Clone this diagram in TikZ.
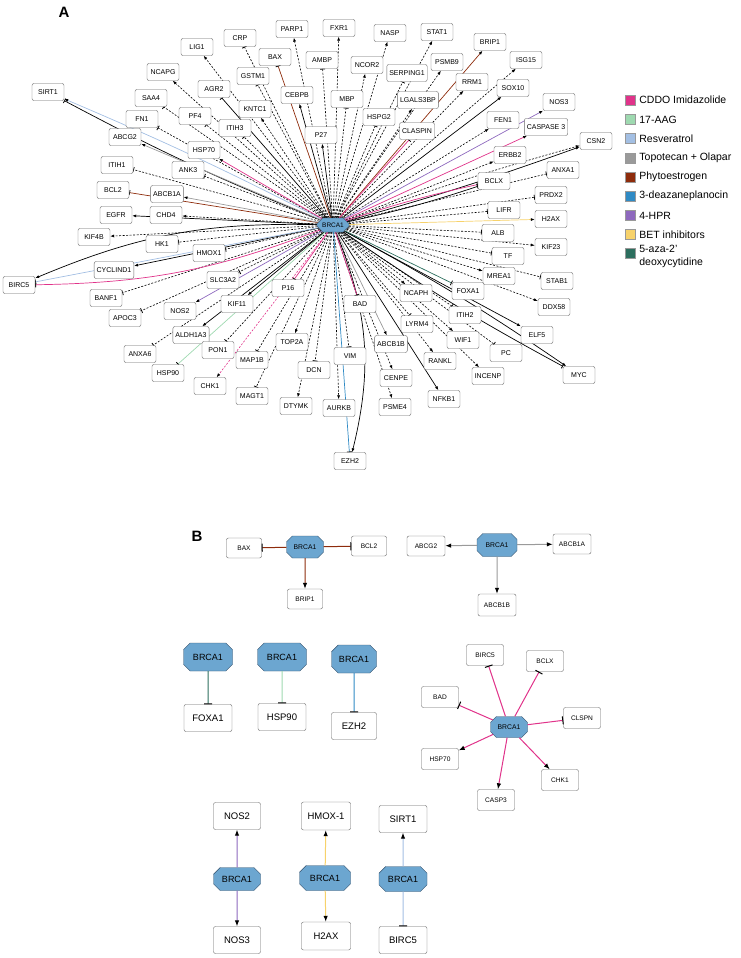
\documentclass[tikz,border=0pt]{standalone}
\usepackage{fontspec}
\setmainfont{Liberation Sans}
\usetikzlibrary{arrows.meta,positioning,shapes.misc}
\pgfdeclarelayer{background}
\pgfsetlayers{background,main}
\definecolor{cddo}{HTML}{E0338A}
\definecolor{aag}{HTML}{9ED9B0}
\definecolor{resv}{HTML}{A3BFE3}
\definecolor{topo}{HTML}{9A9A9A}
\definecolor{phyto}{HTML}{8E2C0C}
\definecolor{dznep}{HTML}{2F8AC4}
\definecolor{hpr}{HTML}{8E69BE}
\definecolor{bet}{HTML}{F7D26B}
\definecolor{aza}{HTML}{2C6E5E}
\definecolor{hubfill}{HTML}{6CA6D0}
\definecolor{hubdraw}{HTML}{34506B}
\tikzstyle{gene} = [draw=black!60, fill=white, rounded corners=2pt, font=\fontsize{7}{8}\selectfont, minimum width=32pt, minimum height=17pt, inner xsep=2.5pt, inner ysep=1pt]
\tikzstyle{geneS} = [gene, font=\fontsize{6.6}{8}\selectfont, minimum width=35pt, minimum height=20pt]
\tikzstyle{geneL} = [gene, font=\fontsize{9.5}{11}\selectfont, minimum width=48pt, minimum height=27pt]
\tikzstyle{hub} = [chamfered rectangle, chamfered rectangle xsep=4pt, draw=hubdraw, fill=hubfill, inner sep=0pt, minimum width=32pt, minimum height=14pt, font=\fontsize{6.5}{7}\selectfont]
\tikzstyle{hubS} = [hub, chamfered rectangle xsep=8pt, minimum width=37pt, minimum height=22pt, font=\fontsize{6.8}{8}\selectfont]
\tikzstyle{hubL} = [hub, chamfered rectangle xsep=10pt, minimum width=49pt, minimum height=26pt, font=\fontsize{9}{10}\selectfont]
\tikzstyle{dact} = [draw, line width=0.6pt, dash pattern=on 2pt off 1.5pt, -{Latex[length=4pt,width=3pt,color=black]}]
\tikzstyle{dinh} = [draw, line width=0.6pt, dash pattern=on 2pt off 1.5pt, -{Bar[width=5pt,line width=0.8pt,color=black]}]
\tikzstyle{act} = [draw, line width=0.7pt, -{Latex[length=4pt,width=3pt,color=black]}]
\tikzstyle{inh} = [draw, line width=0.7pt, -{Bar[width=5pt,line width=0.8pt,color=black]}]
\tikzstyle{bact} = [draw, line width=1pt, -{Latex[length=6pt,width=4.5pt,color=black]}]
\tikzstyle{binh} = [draw, line width=1pt, -{Bar[width=8pt,line width=1pt,color=black]}]
\tikzstyle{swatch} = [draw=black!40, minimum size=10pt, inner sep=0pt]
\tikzstyle{legtext} = [font=\fontsize{10.5}{13}\selectfont, inner sep=0pt]
\tikzstyle{panel} = [font=\bfseries\fontsize{15}{15}\selectfont, inner sep=0pt]

\begin{document}
\begin{tikzpicture}[x=1pt, y=-1pt]
\useasboundingbox (0,0) rectangle (741,958);
% A
\node[panel] (labA) at (64,12) {A};
\node[hub] (BRCA1) at (333,225) {BRCA1};
\foreach \n/\x/\y in {PARP1/292/29, CRP/240/38, LIG1/197/47, BAX/275/57, AMBP/322/60,
  NCAPG/163/72, GSTM1/253/76, AGR2/214/89, SIRT1/48/92, CEBPB/297/95, SAA4/151/98,
  KNTC1/255/109, FN1/142/119, PF4/195/116, ITIH3/235/128, P27/321/135, ABCG2/125/137,
  HSP70/204/150, ITIH1/117/165, ANK3/188/170, BCL2/113/190, ABCB1A/167/194,
  EGFR/116/215, CHD4/166/215, FXR1/339/28, NASP/390/33, STAT1/437/32, BRIP1/490/42,
  NCOR2/367/65, SERPING1/407/73, PSMB9/447/62, ISG15/526/60, MBP/347/99,
  LGALS3BP/418/100, RRM1/472/82, SOX10/513/88, HSPG2/379/117, NOS3/559/102,
  FEN1/503/120, CLASPIN/417/131, CSN2/596/141, ERBB2/510/155, ANXA1/563/170,
  BCLX/494/181, PRDX2/551/195, LIFR/504/210, H2AX/551/219, ALB/498/233, KIF23/551/247,
  TF/508/256, MREA1/499/276, STAB1/557/281, FOXA1/468/291, NCAPH/416/293,
  DDX58/554/307, BAD/360/304, ITIH2/465/315, LYRM4/417/324, ELF5/537/335,
  WIF1/463/340, ABCB1B/391/344, PC/506/353, VIM/350/356, RANKL/440/361, MYC/579/375,
  DCN/314/370, CENPE/396/378, INCENP/488/376, NFKB1/444/399, PSME4/395/407,
  AURKB/339/408, EZH2/350/461, KIF4B/94/237, HK1/162/244, HMOX1/209/253,
  CYCLIND1/114/270, BIRC5/19/285, SLC3A2/223/280, P16/288/288, BANF1/106/298,
  KIF11/237/304, NOS2/180/311, APOC3/125/318, ALDH1A3/191/335, TOP2A/292/342,
  PON1/218/350, ANXA6/140/354, MAP1B/252/360, HSP90/168/373, CHK1/210/386,
  MAGT1/252/396, DTYMK/296/406}
  \node[gene] (\n) at (\x,\y) {\n};
\node[gene] (CASP3A) at (546,127) {CASPASE 3};

\begin{pgfonlayer}{background}
\foreach \g in {PARP1, LIG1, NCAPG, KNTC1, CHD4, FXR1, NASP, STAT1, NCOR2, PSMB9,
  ISG15, LGALS3BP, RRM1, FEN1, ERBB2, KIF23, MREA1, DDX58, NCAPH, WIF1, RANKL,
  CENPE, INCENP, PSME4, AURKB, KIF4B, TOP2A, DTYMK}
  \path[dact] (BRCA1) -- (\g);
\foreach \g in {CRP, AMBP, GSTM1, SAA4, FN1, PF4, ITIH3, ITIH1, ANK3, SERPING1, MBP,
  HSPG2, ANXA1, PRDX2, LIFR, ALB, TF, STAB1, ITIH2, LYRM4, PC, VIM, DCN, HK1, HMOX1,
  SLC3A2, BANF1, APOC3, ANXA6, PON1, MAP1B, MAGT1}
  \path[dinh] (BRCA1) -- (\g);
\foreach \g in {CEBPB, P27, EGFR, SOX10, ELF5, NFKB1, CYCLIND1, KIF11, ALDH1A3}
  \path[act] (BRCA1) -- (\g);
\path[inh] (BRCA1) -- (AGR2);
\path[dact] (BRCA1) to[bend left=2] (CSN2);
\path[act] (BRCA1) to[bend right=2] (CSN2);
\path[inh] (BRCA1) to[bend left=3] (SIRT1);
\path[act, draw=resv] (BRCA1) to[bend right=2] (SIRT1);
\path[act] (BRCA1) to[bend right=12] (BIRC5);
\path[inh, draw=resv] (BRCA1) -- (BIRC5);
\path[inh, draw=cddo] (BRCA1) to[bend left=10] (BIRC5);
\path[inh, draw=cddo] (BRCA1) to[bend left=3] (BCLX);
\path[inh] (BRCA1) to[bend right=3] (BCLX);
\path[act] (BRCA1) to[bend left=3] (MYC);
\path[inh] (BRCA1) to[bend right=3] (MYC);
\path[act] (BRCA1) to[bend left=18] (EZH2);
\path[inh, draw=dznep] (BRCA1) -- (EZH2);
\foreach \g in {BAX, BCL2}
  \path[inh, draw=phyto] (BRCA1) -- (\g);
\path[act, draw=phyto] (BRCA1) -- (BRIP1);
\foreach \g in {ABCG2, ABCB1A, ABCB1B}
  \path[act, draw=topo] (BRCA1) -- (\g);
\foreach \g in {HSP70, CASP3A}
  \path[act, draw=cddo] (BRCA1) -- (\g);
\foreach \g in {CLASPIN, BAD, P16}
  \path[inh, draw=cddo] (BRCA1) -- (\g);
\path[dact, draw=cddo] (BRCA1) -- (CHK1);
\foreach \g in {NOS3, NOS2}
  \path[act, draw=hpr] (BRCA1) -- (\g);
\path[act, draw=bet] (BRCA1) -- (H2AX);
\path[inh, draw=aza] (BRCA1) -- (FOXA1);
\path[inh, draw=aag] (BRCA1) -- (HSP90);
\end{pgfonlayer}

% legend
\foreach \c/\t [count=\i] in {cddo/CDDO Imidazolide, aag/17-AAG, resv/Resveratrol,
  topo/Topotecan + Olapar, phyto/Phytoestrogen, dznep/3-deazaneplanocin, hpr/4-HPR,
  bet/BET inhibitors}
{
  \node[swatch, fill=\c] (sw\i) at (630,81+19.2*\i) {};
  \node[legtext, right=4pt of sw\i] (lt\i) {\t};
}
\node[swatch, fill=aza] (sw9) at (630,253) {};
\node[legtext, align=left, right=4pt of sw9, yshift=-3.5pt] (lt9) {5-aza-2'\\deoxycytidine};

% B
\node[panel] (labB) at (197,536) {B};
\node[hubS] (hb1) at (305,547) {BRCA1};
\node[geneS] (bBAX) at (244,548) {BAX};
\node[geneS] (bBCL2) at (369,546) {BCL2};
\node[geneS] (bBRIP1) at (305,599) {BRIP1};
\path[binh, draw=phyto] (hb1) -- (bBAX);
\path[binh, draw=phyto] (hb1) -- (bBCL2);
\path[bact, draw=phyto] (hb1) -- (bBRIP1);

\node[hubS, minimum width=40pt, minimum height=23pt] (hb2) at (497,545) {BRCA1};
\node[geneS, minimum width=38pt] (bABCG2) at (426,546) {ABCG2};
\node[geneS, minimum width=38pt] (bABCB1A) at (572,544) {ABCB1A};
\node[geneS, minimum width=38pt, minimum height=22pt] (bABCB1B) at (497,605) {ABCB1B};
\foreach \g in {bABCG2, bABCB1A, bABCB1B}
  \path[bact, draw=topo] (hb2) -- (\g);

\node[hubL, minimum height=28pt] (hb3) at (208,657) {BRCA1};
\node[geneL] (bFOXA1) at (208,718) {FOXA1};
\node[hubL, minimum height=28pt] (hb4) at (282,657) {BRCA1};
\node[geneL] (bHSP90) at (282,717) {HSP90};
\node[hubL, minimum width=45pt, minimum height=28pt] (hb5) at (354,659) {BRCA1};
\node[geneL, minimum width=45pt] (bEZH2) at (354,726) {EZH2};
\path[binh, draw=aza] (hb3) -- (bFOXA1);
\path[binh, draw=aag] (hb4) -- (bHSP90);
\path[binh, draw=dznep] (hb5) -- (bEZH2);

\node[hubS, minimum height=21pt] (hb6) at (509,727) {BRCA1};
\foreach \n/\x/\y in {BIRC5/485/655, BCLX/545/661, BAD/440/697, CLSPN/582/718,
  HSP70/440/759, CHK1/560/780, CASP3/496/800}
  \node[geneS, minimum width=37pt, minimum height=21pt] (b\n) at (\x,\y) {\n};
\foreach \g in {bBIRC5, bBCLX, bBAD, bCLSPN}
  \path[binh, draw=cddo] (hb6) -- (\g);
\foreach \g in {bHSP70, bCASP3, bCHK1}
  \path[bact, draw=cddo] (hb6) -- (\g);

\node[hubL, minimum width=47pt, minimum height=23pt] (hb7) at (237,879) {BRCA1};
\node[geneL, minimum width=47pt] (bNOS2) at (237,816) {NOS2};
\node[geneL, minimum width=47pt] (bNOS3) at (237,940) {NOS3};
\node[hubL, minimum width=51pt, minimum height=25pt] (hb8) at (325,878) {BRCA1};
\node[geneL, minimum width=49pt, minimum height=28pt] (bHMOX) at (326,816) {HMOX-1};
\node[geneL, minimum width=49pt, minimum height=28pt] (bH2AX) at (326,936) {H2AX};
\node[hubL, minimum width=48pt, minimum height=25pt] (hb9) at (403,879) {BRCA1};
\node[geneL] (bSIRT1) at (403,819) {SIRT1};
\node[geneL] (bBIRC5b) at (403,940) {BIRC5};
\path[bact, draw=hpr] (hb7) -- (bNOS2);
\path[bact, draw=hpr] (hb7) -- (bNOS3);
\path[bact, draw=bet] (hb8) -- (bHMOX);
\path[bact, draw=bet] (hb8) -- (bH2AX);
\path[bact, draw=resv] (hb9) -- (bSIRT1);
\path[binh, draw=resv] (hb9) -- (bBIRC5b);
\end{tikzpicture}
\end{document}
